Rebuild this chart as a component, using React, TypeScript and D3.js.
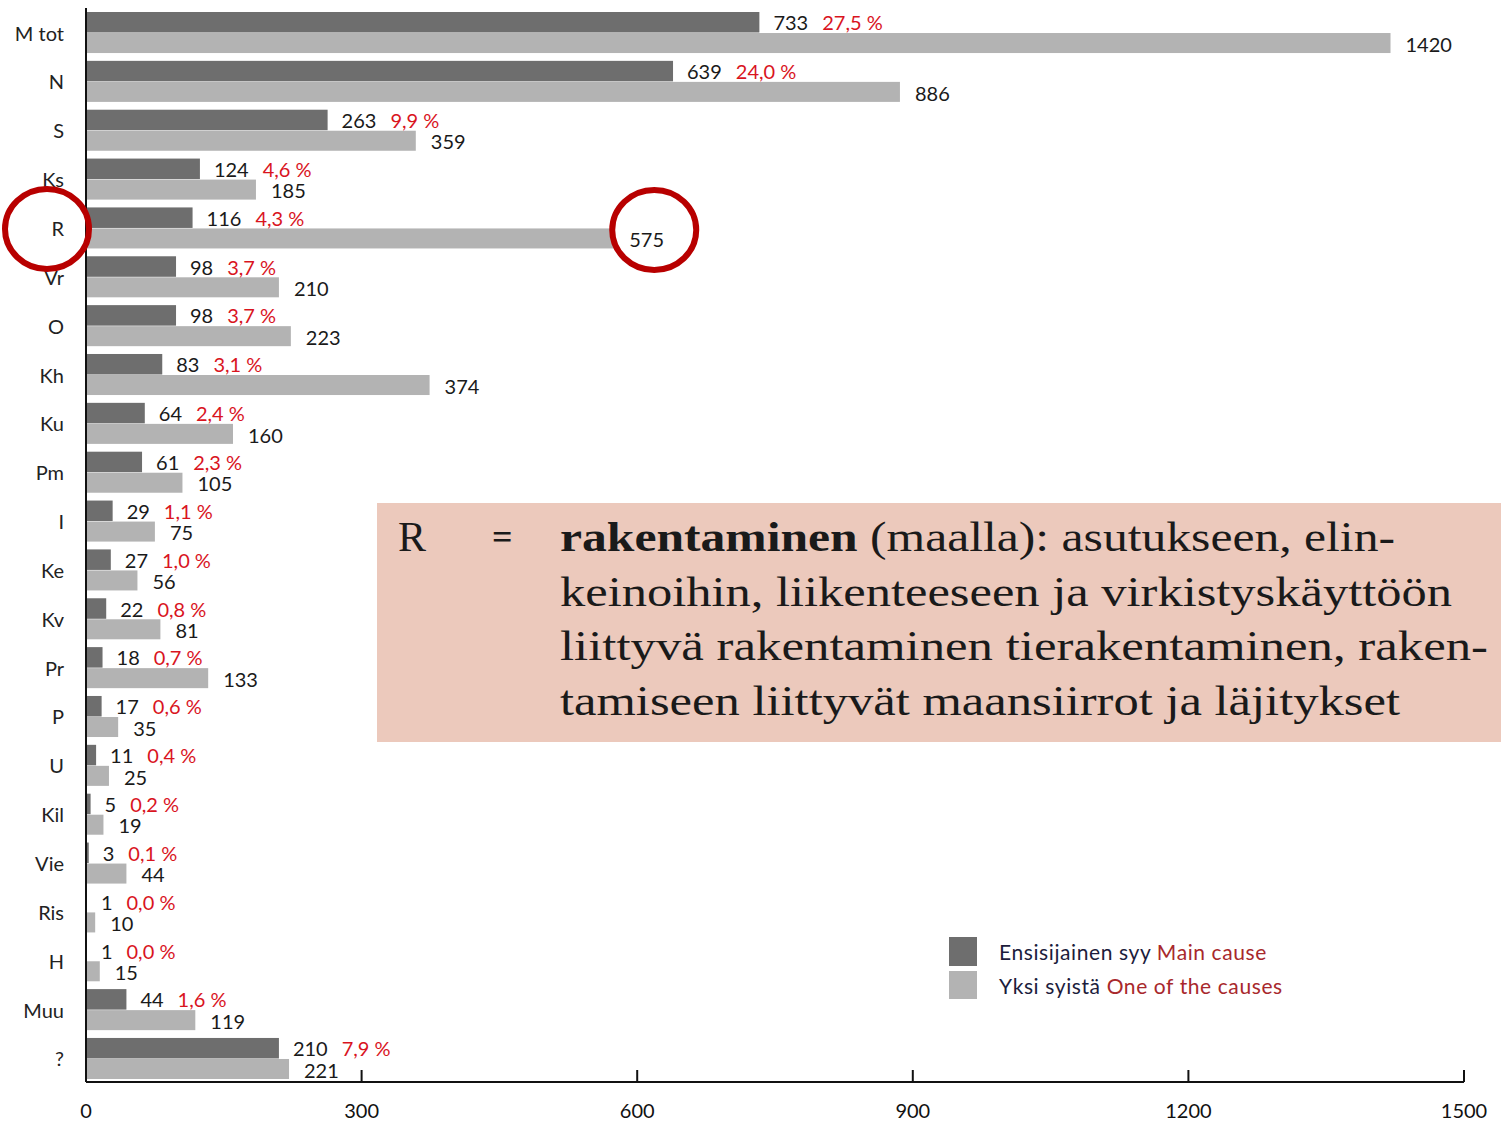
import React from 'react';
import * as d3 from 'd3';

// categories top -> bottom
const categories = ['M tot','N','S','Ks','R','Vr','O','Kh','Ku','Pm','I','Ke','Kv','Pr','P','U','Kil','Vie','Ris','H','Muu','?'];
// Ensisijainen syy / Main cause
const mainCause = [733,639,263,124,116,98,98,83,64,61,29,27,22,18,17,11,5,3,1,1,44,210];
// Yksi syistä / One of the causes
const oneOfCauses = [1420,886,359,185,575,210,223,374,160,105,75,56,81,133,35,25,19,44,10,15,119,221];
// share of main cause
const mainPct = ['27,5','24,0','9,9','4,6','4,3','3,7','3,7','3,1','2,4','2,3','1,1','1,0','0,8','0,7','0,6','0,4','0,2','0,1','0,0','0,0','1,6','7,9'];
const xTicks = [0,300,600,900,1200,1500];

const boxLines = [
  {bold: 'rakentaminen', rest: ' (maalla): asutukseen, elin-', w: 835},
  {bold: '', rest: 'keinoihin, liikenteeseen ja virkistyskäyttöön', w: 892},
  {bold: '', rest: 'liittyvä rakentaminen tierakentaminen, raken-', w: 928},
  {bold: '', rest: 'tamiseen liittyvät maansiirrot ja läjitykset', w: 840},
];

const DARK = '#6e6e6e';
const LIGHT = '#b3b3b3';
const RED = '#d9141e';
const CIRCLE = '#b80000';
const font = 'Lato, "Open Sans", sans-serif';
const serif = '"Liberation Serif", serif';

export default function App() {
  const x = d3.scaleLinear().domain([0, 1500]).range([86, 1464]);
  const y = d3.scaleBand<string>().domain(categories).range([12, 1079]).paddingInner(0.16).paddingOuter(0);
  const bw = y.bandwidth();
  const half = bw / 2;
  const axisY = 1082;
  const rY = (y('R') as number) + half;

  return (
    <svg width={1501} height={1122} style={{position: 'absolute', left: 0, top: 0, background: '#fff'}}>
      {categories.map((c, i) => {
        const top = y(c) as number;
        return (
          <g key={c}>
            <rect x={x(0)} y={top} width={x(mainCause[i]) - x(0)} height={half} fill={DARK} />
            <rect x={x(0)} y={top + half + 0.5} width={x(oneOfCauses[i]) - x(0)} height={half - 0.5} fill={LIGHT} />
            <text x={64} y={top + half} textAnchor="end" dominantBaseline="central"
              fontFamily={font} fontSize={20} fill="#222">{c}</text>
            <text x={x(mainCause[i]) + 14} y={top + half / 2} dominantBaseline="central"
              fontFamily={font} fontSize={20} fill="#1a1a1a">
              {mainCause[i]}
              <tspan dx={14} fill={RED}>{mainPct[i] + ' %'}</tspan>
            </text>
            <text x={x(oneOfCauses[i]) + 15} y={top + half + half / 2 + 1} dominantBaseline="central"
              fontFamily={font} fontSize={20} fill="#1a1a1a">{oneOfCauses[i]}</text>
          </g>
        );
      })}

      {/* axes */}
      <line x1={x(0)} x2={x(0)} y1={8} y2={axisY} stroke="#111" strokeWidth={2} />
      <line x1={x(0)} x2={x(1500)} y1={axisY} y2={axisY} stroke="#111" strokeWidth={2} />
      {xTicks.map(t => (
        <g key={t}>
          {t > 0 && <line x1={x(t)} x2={x(t)} y1={axisY - 12} y2={axisY} stroke="#111" strokeWidth={2} />}
          <text x={x(t)} y={1110} textAnchor="middle" dominantBaseline="central"
            fontFamily={font} fontSize={20} fill="#111">{t}</text>
        </g>
      ))}

      {/* highlight circles */}
      <ellipse cx={47} cy={rY + 1} rx={42} ry={40} fill="none" stroke={CIRCLE} strokeWidth={6} />
      <ellipse cx={x(575) + 40} cy={rY + 2} rx={42} ry={40} fill="none" stroke={CIRCLE} strokeWidth={6} />

      {/* explanation box */}
      <rect x={377} y={503} width={1124} height={239} fill="#ecc9bc" />
      <text x={398} y={551} fontFamily={serif} fontSize={42} fill="#1a1a1a">R</text>
      <text x={492} y={549} fontFamily={serif} fontSize={36} fontWeight="bold" fill="#1a1a1a">=</text>
      {boxLines.map((l, i) => (
        <text key={i} x={560} y={551 + i * 54.7} fontFamily={serif} fontSize={42} fill="#1a1a1a"
          textLength={l.w} lengthAdjust="spacingAndGlyphs">
          {l.bold && <tspan fontWeight="bold">{l.bold}</tspan>}
          {l.rest}
        </text>
      ))}

      {/* legend */}
      <rect x={949} y={937} width={28} height={29} fill={DARK} />
      <rect x={949} y={971} width={28} height={28} fill={LIGHT} />
      <text x={999} y={951} dominantBaseline="central" fontFamily={font} fontSize={21} letterSpacing={0.6} fill="#1c1c3c">
        Ensisijainen syy <tspan fill="#a8282c">Main cause</tspan>
      </text>
      <text x={999} y={985} dominantBaseline="central" fontFamily={font} fontSize={21} letterSpacing={0.6} fill="#1c1c3c">
        Yksi syistä <tspan fill="#a8282c">One of the causes</tspan>
      </text>
    </svg>
  );
}
